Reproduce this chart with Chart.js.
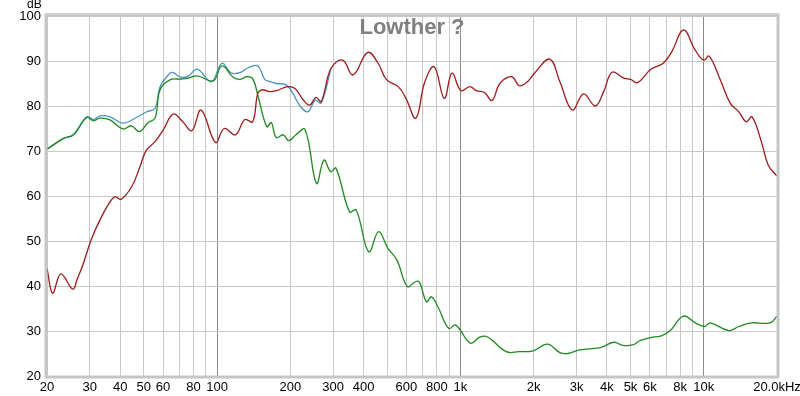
<!DOCTYPE html>
<html>
<head>
<meta charset="utf-8">
<script src="https://cdn.jsdelivr.net/npm/chart.js@4.4.1/dist/chart.umd.min.js"></script>
<style>
  html, body { margin: 0; padding: 0; background: #ffffff; }
  #wrap { width: 800px; height: 396px; position: relative; }
</style>
</head>
<body>
<div id="wrap"><canvas id="grafico"></canvas></div>
<script>
// titulo e eixos
var tituloGrafico = 'Lowther ?';
var unidadeY = 'dB';
var gradeX = [20, 30, 40, 50, 60, 70, 80, 90, 100, 200, 300, 400, 500, 600, 700, 800, 900,
              1000, 2000, 3000, 4000, 5000, 6000, 7000, 8000, 9000, 10000, 20000];
var rotulosX = {20: '20', 30: '30', 40: '40', 50: '50', 60: '60', 80: '80', 100: '100',
                200: '200', 300: '300', 400: '400', 600: '600', 800: '800', 1000: '1k',
                2000: '2k', 3000: '3k', 4000: '4k', 5000: '5k', 6000: '6k', 8000: '8k',
                10000: '10k', 20000: '20.0kHz'};
var gradeForte = [100, 1000, 10000];

// curva vermelha (driver)
var vermelhoHz = [20, 21.1, 22.8, 25.5, 26.6, 28, 30.3, 33, 36.3, 38.1, 40.4, 44.6, 48.2, 51.1, 55.6,
                  60.1, 66, 72.3, 78.7, 86, 98.5, 107, 119, 130, 140, 147, 153, 165, 175, 195,
                  209, 225, 240, 255, 268, 294, 328, 362, 416, 459, 496, 555, 597, 656, 714,
                  780, 858, 923, 1005, 1093, 1162, 1256, 1348, 1453, 1624, 1745, 1870, 2024,
                  2331, 2563, 2882, 3206, 3582, 3879, 4203, 4695, 5008, 5338, 6076, 6817,
                  7393, 8261, 9227, 9989, 10530, 11700, 12860, 13940, 14950, 15800, 17330,
                  18400, 20000];
var vermelhoDb = [43.9, 38.4, 42.7, 39.3, 41.5, 44.5, 50.1, 54.7, 58.7, 59.8, 59.3, 62.1, 66.5, 70.1, 72.1,
                  74.7, 78.2, 76.5, 74.5, 79.1, 71.9, 75.0, 73.6, 77.0, 76.5, 82.8, 83.6, 83.2, 83.4, 84.3,
                  83.9, 81.5, 80.2, 81.9, 81.0, 88.4, 90.2, 86.9, 91.9, 89.5, 85.9, 84.3, 81.7, 77.3, 85.4,
                  88.7, 81.7, 87.3, 83.4, 84.3, 83.4, 83.0, 81.2, 85.0, 86.5, 84.5, 85.2, 87.4,
                  90.4, 85.4, 79.1, 82.7, 80.0, 83.2, 87.5, 86.2, 85.9, 85.2, 88.2, 89.5,
                  92.1, 96.9, 92.4, 90.2, 91.1, 85.8, 80.6, 78.7, 76.5, 77.6, 71.7,
                  66.9, 64.4];

// curva verde
var verdeHz = [20, 23.4, 25.7, 29.1, 31.1, 33, 36.3, 41, 44.4, 48, 52, 55.6, 58.3, 64, 71, 76,
               82.9, 96.5, 104.7, 116.5, 124, 132, 140, 147, 160, 167, 175, 187, 197, 211, 230,
               256, 275, 293, 308, 350, 373, 420, 461, 503, 548, 605, 656, 680, 725, 760, 808,
               894, 958, 1100, 1205, 1300, 1541, 1741, 1993, 2280, 2563, 2766, 3087, 3760,
               4267, 4650, 5100, 5500, 6270, 6690, 7250, 8260, 9230, 10080, 10630, 12670,
               13940, 15700, 18740, 20000];
var verdeDb = [70.4, 72.8, 73.6, 77.4, 76.7, 77.3, 76.9, 74.9, 75.6, 74.3, 76.3, 77.3, 83.6, 85.8, 86.0, 86.2,
               86.7, 85.6, 88.9, 86.4, 85.9, 86.5, 86.1, 82.4, 75.4, 76.3, 73.0, 73.6, 72.3, 73.6, 74.8,
               62.8, 68.0, 65.4, 66.2, 56.5, 56.9, 47.6, 52.1, 48.4, 45.8, 39.9, 41.0, 40.8, 36.5, 37.6, 35.4,
               30.6, 31.3, 27.3, 28.7, 28.6, 25.4, 25.4, 25.6, 27.1, 25.2, 25.0, 25.8, 26.3,
               27.5, 26.8, 26.9, 27.9, 28.7, 28.9, 30.0, 33.3, 31.8, 31.0, 31.8, 30.1,
               31.0, 31.8, 31.8, 33.3];

// curva azul (soma), abaixo de ~300 Hz
var azulHz = [20, 23.4, 25.7, 29.1, 31.1, 33, 36.3, 41, 46.8, 51.3, 55.6, 58.3, 64, 66, 71, 76,
              82.9, 94.7, 104.7, 114, 124, 134, 147, 157, 165, 175, 192, 205, 218, 236, 253,
              268, 294];
var azulDb = [70.4, 72.8, 73.6, 77.6, 77.0, 77.8, 77.6, 76.2, 77.5, 78.7, 79.5, 84.3, 87.3, 87.4, 86.4, 86.6,
              88.2, 85.4, 89.5, 87.4, 87.4, 88.5, 88.9, 85.9, 85.4, 85.0, 84.7, 82.8, 80.2, 78.7, 81.3,
              80.7, 88.4];

function montarPontos(freqs, valores) {
    var pontos = [];
    freqs.forEach(function(f, i) {
        pontos.push({x: f, y: valores[i]});
    });
    return pontos;
}

// moldura, titulo e "dB"
var pluginMoldura = {
    id: 'moldura',
    afterDatasetsDraw: function(chart) {
        var ctx = chart.ctx;
        var a = chart.chartArea;
        ctx.save();
        ctx.strokeStyle = '#c6c6c6';
        ctx.lineWidth = 3;
        ctx.strokeRect(a.left - 1, a.top - 1, a.right - a.left + 2, a.bottom - a.top + 2);
        ctx.fillStyle = '#cfcfcf';
        ctx.fillRect(a.left - 2, a.top - 3, a.right - a.left + 4, 2);

        ctx.font = 'bold 22px "Liberation Sans", Arial, sans-serif';
        ctx.fillStyle = '#808080';
        ctx.textAlign = 'center';
        ctx.textBaseline = 'alphabetic';
        ctx.fillText(tituloGrafico, (a.left + a.right) / 2, a.top + 18);

        ctx.font = '12px "Liberation Sans", Arial, sans-serif';
        ctx.fillStyle = '#000000';
        ctx.textAlign = 'left';
        ctx.textBaseline = 'middle';
        ctx.fillText(unidadeY, 27, 5);
        ctx.restore();
    }
};

var ctx = document.getElementById('grafico').getContext('2d');
var grafico = new Chart(ctx, {
    type: 'line',
    data: {
        datasets: [{
            label: 'vermelho',
            data: montarPontos(vermelhoHz, vermelhoDb),
            borderColor: '#9e1a1a',
            order: 0
        }, {
            label: 'verde',
            data: montarPontos(verdeHz, verdeDb),
            borderColor: '#1f8a1f',
            order: 1
        }, {
            label: 'azul',
            data: montarPontos(azulHz, azulDb),
            borderColor: '#4a94c4',
            order: 2
        }]
    },
    options: {
        responsive: true,
        maintainAspectRatio: false,
        animation: false,
        layout: { padding: { top: 16, right: 23, left: 0, bottom: 0 } },
        elements: {
            point: { radius: 0 },
            line: { borderWidth: 1.3, tension: 0.4, fill: false }
        },
        plugins: {
            legend: { display: false },
            tooltip: { enabled: false }
        },
        scales: {
            x: {
                type: 'logarithmic',
                min: 20,
                max: 20000,
                afterBuildTicks: function(scale) {
                    scale.ticks = gradeX.map(function(v) { return {value: v}; });
                },
                afterFit: function(scale) {
                    scale.height = 20;
                    scale.paddingLeft = 0;
                    scale.paddingRight = 0;
                },
                border: { display: false },
                grid: {
                    drawTicks: false,
                    color: function(c) {
                        return gradeForte.indexOf(c.tick.value) >= 0 ? '#8a8a8a' : '#c8c8c8';
                    },
                    lineWidth: 1
                },
                ticks: {
                    autoSkip: false,
                    maxRotation: 0,
                    padding: 4,
                    color: '#000000',
                    font: { family: '"Liberation Sans", Arial, sans-serif', size: 13 },
                    callback: function(v) {
                        return rotulosX[v] !== undefined ? rotulosX[v] : '';
                    }
                }
            },
            y: {
                min: 20,
                max: 100,
                afterFit: function(scale) {
                    scale.width = 47;
                    scale.paddingTop = 0;
                    scale.paddingBottom = 0;
                },
                border: { display: false },
                grid: { drawTicks: false, color: '#c8c8c8', lineWidth: 1 },
                ticks: {
                    stepSize: 10,
                    padding: 6,
                    color: '#000000',
                    font: { family: '"Liberation Sans", Arial, sans-serif', size: 13 }
                }
            }
        }
    },
    plugins: [pluginMoldura]
});
</script>
</body>
</html>
